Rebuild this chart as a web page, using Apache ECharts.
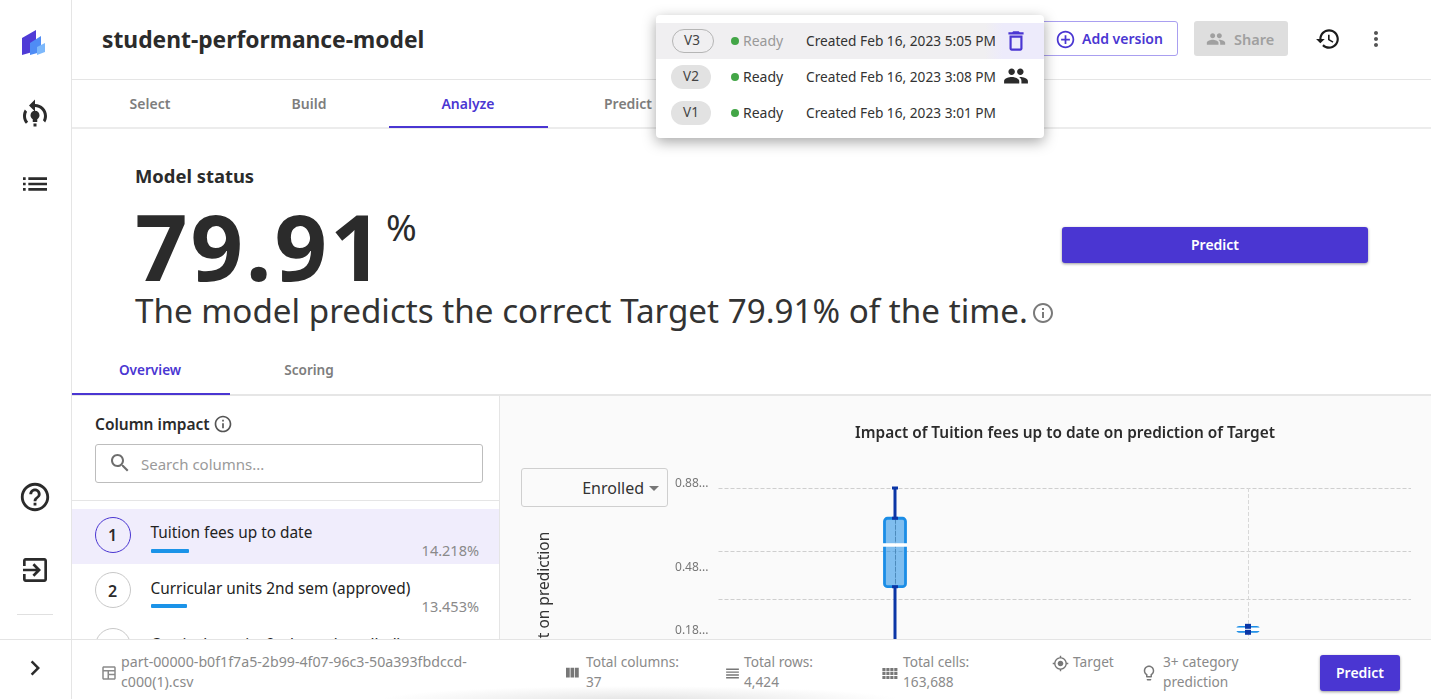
<!DOCTYPE html>
<html>
<head>
<meta charset="utf-8">
<title>student-performance-model</title>
<script src="https://cdn.jsdelivr.net/npm/echarts@6/dist/echarts.min.js"></script>
<style>
html, body { margin: 0; padding: 0; width: 1431px; height: 699px; overflow: hidden; background: #fff; }
body { font-family: "Noto Sans", sans-serif; color: #2b2b2b; position: relative; }
.box { position: absolute; box-sizing: border-box; }
.t { position: absolute; white-space: nowrap; line-height: 1; transform: translateY(-50%); }
.ic { position: absolute; }
#chart { position: absolute; left: 500px; top: 396px; width: 931px; height: 340px; z-index: 2; }
#panel { background: #fafafa; left: 500px; top: 396px; width: 931px; height: 244px; z-index: 1; }
#footer { left: 0; top: 639px; width: 1431px; height: 60px; background: #fff; border-top: 1px solid #e4e4e4; z-index: 5;
    background-image: radial-gradient(ellipse 260px 14px at 640px 60px, #e4e4e4, rgba(255,255,255,0)); }
#popup { left: 656px; top: 15px; width: 388px; height: 123px; background: #fff; border-radius: 4px; box-shadow: 0 4px 14px rgba(0,0,0,.35); z-index: 8; }
</style>
</head>
<body>
<div class="box" id="panel"></div>
<div id="chart"></div>
<script>
// 图表数据
var boxPositions = [0, 1];
var boxLow = [-0.15, 0.184];
var boxQ1 = [0.407, 0.1935];
var boxMedian = [0.607, 0.203];
var boxQ3 = [0.735, 0.2125];
var boxHigh = [0.88, 0.222];
var yLabelValues = [0.18, 0.48, 0.88];
var yGridValues = [0.348, 0.578, 0.88];
var xGridValues = [0, 1];

var chartTitle = 'Impact of Tuition fees up to date on prediction of Target';
var yAxisName = 'Impact on prediction';

// 页面文字
var versionNames = ['V3', 'V2', 'V1'];
var versionDates = ['Created Feb 16, 2023 5:05 PM', 'Created Feb 16, 2023 3:08 PM', 'Created Feb 16, 2023 3:01 PM'];
var topTabs = ['Select', 'Build', 'Analyze', 'Predict'];
var columnNames = ['Tuition fees up to date', 'Curricular units 2nd sem (approved)', 'Curricular units 2nd sem (enrolled)'];
var columnImpacts = ['14.218%', '13.453%', ''];
var columnBars = [38, 36, 0];

var PURPLE = '#4a36d2';
var ICONS = {
    trash: 'M6 19c0 1.1.9 2 2 2h8c1.1 0 2-.9 2-2V7H6v12zM8 9h8v10H8V9zm7.5-5l-1-1h-5l-1 1H5v2h14V4z',
    people: 'M16 11c1.66 0 2.99-1.34 2.99-3S17.66 5 16 5c-1.66 0-3 1.34-3 3s1.34 3 3 3zm-8 0c1.66 0 2.99-1.34 2.99-3S9.66 5 8 5C6.34 5 5 6.34 5 8s1.34 3 3 3zm0 2c-2.33 0-7 1.17-7 3.5V19h14v-2.5c0-2.33-4.67-3.5-7-3.5zm8 0c-.29 0-.62.02-.97.05 1.16.84 1.97 1.97 1.97 3.45V19h6v-2.5c0-2.33-4.67-3.5-7-3.5z',
    history: 'M13 3c-4.97 0-9 4.03-9 9H1l3.89 3.89.07.14L9 12H6c0-3.87 3.13-7 7-7s7 3.13 7 7-3.13 7-7 7c-1.93 0-3.68-.79-4.94-2.06l-1.42 1.42C8.27 19.99 10.51 21 13 21c4.97 0 9-4.03 9-9s-4.03-9-9-9zm-1 5v5l4.28 2.54.72-1.21-3.5-2.08V8H12z',
    more: 'M12 8c1.1 0 2-.9 2-2s-.9-2-2-2-2 .9-2 2 .9 2 2 2zm0 2c-1.1 0-2 .9-2 2s.9 2 2 2 2-.9 2-2-.9-2-2-2zm0 6c-1.1 0-2 .9-2 2s.9 2 2 2 2-.9 2-2-.9-2-2-2z',
    list: 'M3 13h2v-2H3v2zm0 4h2v-2H3v2zm0-8h2V7H3v2zm4 4h14v-2H7v2zm0 4h14v-2H7v2zM7 7v2h14V7H7z',
    help: 'M11 18h2v-2h-2v2zm1-16C6.48 2 2 6.48 2 12s4.48 10 10 10 10-4.48 10-10S17.52 2 12 2zm0 18c-4.41 0-8-3.59-8-8s3.59-8 8-8 8 3.59 8 8-3.59 8-8 8zm0-14c-2.21 0-4 1.79-4 4h2c0-1.1.9-2 2-2s2 .9 2 2c0 2-3 1.75-3 5h2c0-2.25 3-2.5 3-5 0-2.21-1.79-4-4-4z',
    exit: 'M10.09 15.59L11.5 17l5-5-5-5-1.41 1.41L12.67 11H3v2h9.67l-2.58 2.59zM19 3H5c-1.11 0-2 .9-2 2v4h2V5h14v14H5v-4H3v4c0 1.1.89 2 2 2h14c1.1 0 2-.9 2-2V5c0-1.1-.9-2-2-2z',
    chevron: 'M10 6L8.59 7.41 13.17 12l-4.58 4.59L10 18l6-6z',
    search: 'M15.5 14h-.79l-.28-.27C15.41 12.59 16 11.11 16 9.5 16 5.91 13.09 3 9.5 3S3 5.91 3 9.5 5.91 16 9.5 16c1.61 0 3.09-.59 4.23-1.57l.27.28v.79l5 4.99L20.49 19l-4.99-5zm-6 0C7.01 14 5 11.99 5 9.5S7.01 5 9.5 5 14 7.01 14 9.5 11.99 14 9.5 14z',
    info: 'M11 7h2v2h-2zm0 4h2v6h-2zm1-9C6.48 2 2 6.48 2 12s4.48 10 10 10 10-4.48 10-10S17.52 2 12 2zm0 18c-4.41 0-8-3.59-8-8s3.59-8 8-8 8 3.59 8 8-3.59 8-8 8z',
    add: 'M13 7h-2v4H7v2h4v4h2v-4h4v-2h-4V7zm-1-5C6.48 2 2 6.48 2 12s4.48 10 10 10 10-4.48 10-10S17.52 2 12 2zm0 18c-4.41 0-8-3.59-8-8s3.59-8 8-8 8 3.59 8 8-3.59 8-8 8z',
    columns: 'M10 18h5V5h-5v13zm-6 0h5V5H4v13zM16 5v13h5V5h-5z',
    rows: 'M3 15h18v-2H3v2zm0 4h18v-2H3v2zm0-8h18V9H3v2zm0-6v2h18V5H3z',
    cells: 'M3 9h4V5H3v4zm0 5h4v-4H3v4zm5 0h4v-4H8v4zm5 0h4v-4h-4v4zM8 9h4V5H8v4zm5-4v4h4V5h-4zm5 9h4v-4h-4v4zM3 19h4v-4H3v4zm5 0h4v-4H8v4zm5 0h4v-4h-4v4zm5 0h4v-4h-4v4zm0-14v4h4V5h-4z',
    target: 'M12 8c-2.21 0-4 1.79-4 4s1.79 4 4 4 4-1.79 4-4-1.79-4-4-4zm8.94 3c-.46-4.17-3.77-7.48-7.94-7.94V1h-2v2.06C6.83 3.52 3.52 6.83 3.06 11H1v2h2.06c.46 4.17 3.77 7.48 7.94 7.94V23h2v-2.06c4.17-.46 7.48-3.77 7.94-7.94H23v-2h-2.06zM12 19c-3.87 0-7-3.13-7-7s3.13-7 7-7 7 3.13 7 7-3.13 7-7 7z',
    bulb: 'M9 21c0 .55.45 1 1 1h4c.55 0 1-.45 1-1v-1H9v1zm3-19C8.14 2 5 5.14 5 9c0 2.38 1.19 4.47 3 5.74V17c0 .55.45 1 1 1h6c.55 0 1-.45 1-1v-2.26c1.81-1.27 3-3.36 3-5.74 0-3.86-3.14-7-7-7zm2.85 11.1l-.85.6V16h-4v-2.3l-.85-.6C7.8 12.16 7 10.63 7 9c0-2.76 2.24-5 5-5s5 2.24 5 5c0 1.63-.8 3.16-2.15 4.1z',
    table: 'M19 3H5c-1.1 0-2 .9-2 2v14c0 1.1.9 2 2 2h14c1.1 0 2-.9 2-2V5c0-1.1-.9-2-2-2zm0 2v3H5V5h14zm-9 14H5v-9h5v9zm2 0v-4h7v4h-7zm0-6v-3h7v3h-7z',
    loop: 'M12 4V1L8 5l4 4V6c3.31 0 6 2.69 6 6 0 1.01-.25 1.97-.7 2.8l1.46 1.46C19.54 15.03 20 13.57 20 12c0-4.42-3.58-8-8-8zm-6.76 3.74C4.46 8.97 4 10.43 4 12c0 2 .74 3.83 1.96 5.24l1.47-1.42C6.53 14.86 6 13.49 6 12c0-1.01.25-1.97.7-2.8L5.24 7.74zM12 8.5c-1.7 0-3 1.3-3 3 0 1.1.6 2 1.5 2.6V16h3v-1.9c.9-.6 1.5-1.5 1.5-2.6 0-1.7-1.3-3-3-3zM11 17h2v2h-2z'
};

function addBox(x, y, w, h, css, parent) {
    var el = document.createElement('div');
    el.className = 'box';
    el.style.cssText = 'left:' + x + 'px;top:' + y + 'px;width:' + w + 'px;height:' + h + 'px;' + (css || '');
    (parent || document.body).appendChild(el);
    return el;
}

// x是文字左边(align=center/right时为中心/右边), y是文字垂直中心
function addText(str, x, y, size, color, weight, align, parent, extra) {
    var el = document.createElement('div');
    el.className = 't';
    el.textContent = str;
    var tr = 'translateY(-50%)';
    if (align === 'center') tr = 'translate(-50%,-50%)';
    if (align === 'right') tr = 'translate(-100%,-50%)';
    el.style.cssText = 'left:' + x + 'px;top:' + y + 'px;font-size:' + size + 'px;color:' + color + ';font-weight:' + (weight || 400) + ';transform:' + tr + ';' + (extra || '');
    (parent || document.body).appendChild(el);
    return el;
}

function addIcon(name, cx, cy, size, color, parent) {
    var ns = 'http://www.w3.org/2000/svg';
    var svg = document.createElementNS(ns, 'svg');
    svg.setAttribute('class', 'ic');
    svg.setAttribute('viewBox', '0 0 24 24');
    svg.setAttribute('width', size);
    svg.setAttribute('height', size);
    svg.style.left = (cx - size / 2) + 'px';
    svg.style.top = (cy - size / 2) + 'px';
    var p = document.createElementNS(ns, 'path');
    p.setAttribute('d', ICONS[name]);
    p.setAttribute('fill', color);
    svg.appendChild(p);
    (parent || document.body).appendChild(svg);
}

function initSidebar() {
    addBox(71, 0, 1, 639, 'background:#e5e5e5;');
    // logo
    var ns = 'http://www.w3.org/2000/svg';
    var svg = document.createElementNS(ns, 'svg');
    svg.setAttribute('class', 'ic');
    svg.setAttribute('width', 24);
    svg.setAttribute('height', 26);
    svg.style.left = '22px';
    svg.style.top = '30px';
    svg.innerHTML = '<polygon points="0,8 14,0 14,21 0,25" fill="#4f3bd6"/><polygon points="8,13 19,6 19,22 8,25" fill="#4f8cf5"/><polygon points="15,17 23,13 23,22 15,25" fill="#7db8fb"/>';
    document.body.appendChild(svg);
    addIcon('loop', 35, 116, 36, '#2b2b2b');
    addIcon('list', 35, 184, 32, '#2b2b2b');
    addIcon('help', 35, 497, 34, '#2b2b2b');
    addIcon('exit', 35, 570, 32, '#2b2b2b');
    addBox(17, 614, 36, 1, 'background:#e0e0e0;');
}

function initHeader() {
    addText('student-performance-model', 102, 39.5, 22.8, '#2b2b2b', 700);
    addBox(72, 79, 1359, 1, 'background:#e5e5e5;');
    addBox(72, 127, 1359, 2, 'background:#ececec;');
    var centers = [150, 309, 468, 628];
    for (var i = 0; i < topTabs.length; i++) {
        addText(topTabs[i], centers[i], 104, 14, i === 2 ? PURPLE : '#7d7d7d', 600, 'center');
    }
    addBox(389, 126, 159, 2, 'background:' + PURPLE + ';');

    addBox(1030, 21, 148, 35, 'border:1px solid #a99ff0;border-radius:3px;background:#fff;');
    addIcon('add', 1065, 39, 21, PURPLE);
    addText('Add version', 1082, 39, 14, PURPLE, 600);
    addBox(1194, 21, 94, 35, 'background:#dedede;border-radius:3px;');
    addIcon('people', 1216, 39, 20, '#a0a0a0');
    addText('Share', 1234, 39, 14.5, '#a0a0a0', 600);
    addIcon('history', 1328, 39, 26, '#1c1c1c');
    addIcon('more', 1376, 39, 24, '#555');
}

function initPopup() {
    var pop = addBox(656, 15, 388, 123, '');
    pop.id = 'popup';
    addBox(0, 8, 388, 36, 'background:#f0eff1;', pop);
    addBox(329, 8, 59, 36, 'background:linear-gradient(90deg,#f0eff1,#edebfb 30%);', pop);
    var ys = [26, 62, 98];
    for (var i = 0; i < versionNames.length; i++) {
        var css = i === 0 ? 'border:1px solid #b5b5b5;' : 'background:#e2e2e2;';
        addBox(i === 0 ? 16 : 15, ys[i] - 12, i === 0 ? 42 : 40, 24, 'border-radius:12px;' + css, pop);
        addText(versionNames[i], i === 0 ? 36 : 35, ys[i], 13.5, '#444', 400, 'center', pop);
        addBox(75, ys[i] - 4, 8, 8, 'border-radius:50%;background:#43a647;', pop);
        addText('Ready', 87, ys[i], 14, i === 0 ? '#999' : '#333', 400, null, pop);
        var txt = addText(versionDates[i], 150, ys[i], 13.7, '#333', 400, null, pop);
        if (i === 0) {
            txt.style.width = '189px';
            txt.style.overflow = 'hidden';
        }
    }
    addIcon('trash', 360, 26, 26, PURPLE, pop);
    addIcon('people', 360, 61, 26, '#2b2b2b', pop);
}

function initStatus() {
    addText('Model status', 135, 176, 18.4, '#2b2b2b', 700);
    addText('79.91', 135, 246, 92, '#2b2b2b', 700, null, null, 'letter-spacing:2.8px;');
    addText('%', 386, 226, 37, '#2b2b2b', 400);
    addText('The model predicts the correct Target 79.91% of the time.', 135, 311, 33.2, '#333', 400);
    addIcon('info', 1043, 313, 24, '#7a7a7a');
    addBox(1062, 227, 306, 36, 'background:' + PURPLE + ';border-radius:3px;box-shadow:0 1px 3px rgba(0,0,0,.4);');
    addText('Predict', 1215, 245, 14, '#fff', 600, 'center');

    addText('Overview', 150, 370, 13.6, PURPLE, 600, 'center');
    addText('Scoring', 309, 370, 13.6, '#7d7d7d', 600, 'center');
    addBox(72, 394, 1359, 2, 'background:#e6e6e6;');
    addBox(72, 393, 158, 2, 'background:' + PURPLE + ';');
}

function initColumnList() {
    addBox(499, 396, 1, 243, 'background:#e5e5e5;');
    addText('Column impact', 95, 424.5, 15.5, '#2b2b2b', 600);
    addIcon('info', 223, 424, 20, '#555');
    addBox(95, 444, 388, 39, 'border:1px solid #bdbdbd;border-radius:3px;');
    addIcon('search', 120, 463, 24, '#6e6e6e');
    addText('Search columns...', 141, 464, 15, '#9a9a9a', 400);
    addBox(72, 500, 427, 1, 'background:#e5e5e5;');
    addBox(72, 509, 427, 55, 'background:#f0edfc;');
    var centers = [534.5, 590, 646];
    for (var i = 0; i < columnNames.length; i++) {
        var active = i === 0;
        addBox(95, centers[i] - 18, 36, 36, 'border-radius:50%;border:1.5px solid ' + (active ? PURPLE : '#c8c8c8') + ';');
        addText(String(i + 1), 112.5, centers[i] + 0.5, 16, '#2b2b2b', 600, 'center');
        addText(columnNames[i], 150.5, centers[i] - 1.5, 15.4, '#222', 400);
        if (columnBars[i] > 0) {
            addBox(150.5, centers[i] + 14, columnBars[i], 4, 'background:#1b93e8;border-radius:1px;');
            addText(columnImpacts[i], 479, centers[i] + 15.5, 14.5, '#8a8a8a', 400, 'right');
        }
    }
}

function initFooter() {
    var foot = addBox(0, 639, 1431, 60, '');
    foot.id = 'footer';
    var c = '#8a8a8a';
    addBox(71, 0, 1, 60, 'background:#e5e5e5;', foot);
    addIcon('chevron', 35, 28, 30, '#2b2b2b', foot);
    addIcon('table', 109, 33, 18, c, foot);
    addText('part-00000-b0f1f7a5-2b99-4f07-96c3-50a393fbdccd-', 121, 22, 14.2, c, 400, null, foot);
    addText('c000(1).csv', 121, 42, 14.2, c, 400, null, foot);
    addIcon('columns', 572, 33, 18, '#777', foot);
    addText('Total columns:', 586, 22, 13.7, c, 400, null, foot);
    addText('37', 586, 42, 13.7, c, 400, null, foot);
    addIcon('rows', 732, 33, 17, '#777', foot);
    addText('Total rows:', 744, 22, 13.7, c, 400, null, foot);
    addText('4,424', 744, 42, 13.7, c, 400, null, foot);
    addIcon('cells', 889, 33, 19, '#777', foot);
    addText('Total cells:', 903, 22, 13.7, c, 400, null, foot);
    addText('163,688', 903, 42, 13.7, c, 400, null, foot);
    addIcon('target', 1060, 23, 17, '#777', foot);
    addText('Target', 1073, 22, 13.7, c, 400, null, foot);
    addIcon('bulb', 1149, 33, 18, '#777', foot);
    addText('3+ category', 1163, 22, 13.7, c, 400, null, foot);
    addText('prediction', 1163, 42, 13.7, c, 400, null, foot);
    addBox(1320, 15, 80, 36, 'background:' + PURPLE + ';border-radius:3px;box-shadow:0 1px 3px rgba(0,0,0,.4);', foot);
    addText('Predict', 1360, 33, 14, '#fff', 600, 'center', foot);
}

function initDropdown() {
    addBox(520.5, 468, 147, 39, 'border:1px solid #cfcfcf;border-radius:3px;background:#fafafa;z-index:3;');
    addText('Enrolled', 644, 488, 16, '#333', 400, 'right', document.body, 'z-index:3;');
    addBox(649, 486, 0, 0, 'border-left:5px solid transparent;border-right:5px solid transparent;border-top:5px solid #777;z-index:3;');
}

// 箱线图，box由custom系列通过坐标轴换算绘制
function renderBox(params, api) {
    var x = api.value(0);
    var px = api.coord([x, api.value(1)])[0];
    var yLow = api.coord([x, api.value(1)])[1];
    var yQ1 = api.coord([x, api.value(2)])[1];
    var yMed = api.coord([x, api.value(3)])[1];
    var yQ3 = api.coord([x, api.value(4)])[1];
    var yHigh = api.coord([x, api.value(5)])[1];
    var dark = '#0b36a6';
    var children = [];
    children.push({
        type: 'rect',
        shape: { x: px - 10.5, y: yQ3, width: 21, height: yQ1 - yQ3, r: 3 },
        style: { fill: 'rgba(27,141,230,0.55)', stroke: '#1b8de6', lineWidth: 2.8 }
    });
    children.push({
        type: 'rect',
        shape: { x: px - 12, y: yMed - 1.75, width: 24, height: 3.5 },
        style: { fill: '#fff' }
    });
    children.push({
        type: 'line',
        shape: { x1: px, y1: yHigh, x2: px, y2: yQ3 },
        style: { stroke: dark, lineWidth: 3 }
    });
    children.push({
        type: 'line',
        shape: { x1: px, y1: yQ1, x2: px, y2: yLow },
        style: { stroke: dark, lineWidth: 3 }
    });
    var caps = [yHigh, yQ3, yQ1, yLow];
    for (var i = 0; i < caps.length; i++) {
        children.push({
            type: 'rect',
            shape: { x: px - 3, y: caps[i] - 1.5, width: 6, height: 3 },
            style: { fill: dark }
        });
    }
    return { type: 'group', children: children };
}

function initChart() {
    var boxData = [];
    for (var i = 0; i < boxPositions.length; i++) {
        boxData.push([boxPositions[i], boxLow[i], boxQ1[i], boxMedian[i], boxQ3[i], boxHigh[i]]);
    }
    var myChart = echarts.init(document.getElementById('chart'));
    myChart.setOption({
        animation: false,
        textStyle: { fontFamily: '"Noto Sans", sans-serif' },
        title: {
            text: chartTitle,
            left: 560,
            top: 25,
            textAlign: 'center',
            textStyle: { fontSize: 15.4, fontWeight: 600, color: '#2b2b2b' }
        },
        grid: { left: 218.5, right: 20, top: 92, height: 239.4 },
        xAxis: {
            type: 'value',
            min: -0.5,
            max: 1.4618,
            axisLine: { show: false },
            axisTick: { show: false, customValues: xGridValues },
            axisLabel: { show: false },
            splitLine: { show: true, lineStyle: { type: 'dashed', color: '#d8d8d8', width: 1 } }
        },
        yAxis: {
            type: 'value',
            min: -0.267,
            max: 0.88,
            name: yAxisName,
            nameLocation: 'middle',
            nameGap: 166,
            nameTextStyle: { fontSize: 15.5, color: '#333' },
            axisLine: { show: true, lineStyle: { type: 'dashed', color: '#8a8a8a', width: 1 } },
            axisTick: { show: false, customValues: yGridValues },
            axisLabel: {
                customValues: yLabelValues,
                margin: 10,
                fontSize: 12,
                color: '#777',
                verticalAlign: 'bottom',
                lineHeight: 8,
                formatter: function (v) { return v.toFixed(2) + '...'; }
            },
            splitLine: { show: true, lineStyle: { type: 'dashed', color: '#cfcfcf', width: 1 } }
        },
        series: [{
            type: 'custom',
            renderItem: renderBox,
            encode: { x: 0, y: [1, 2, 3, 4, 5] },
            clip: false,
            data: boxData
        }]
    });
}

initSidebar();
initHeader();
initStatus();
initColumnList();
initDropdown();
initPopup();
initFooter();
initChart();
</script>
</body>
</html>
